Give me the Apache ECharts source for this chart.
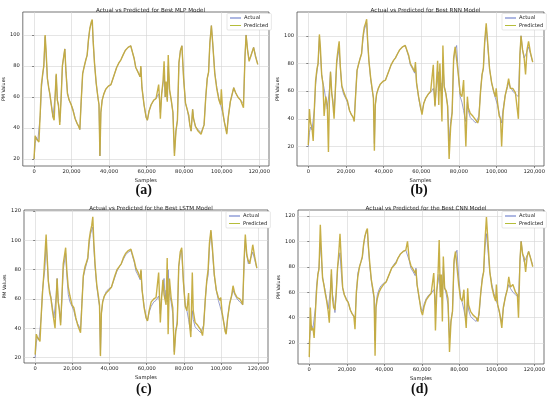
<!DOCTYPE html>
<html>
<head>
<meta charset="utf-8">
<script src="https://cdn.jsdelivr.net/npm/echarts@6/dist/echarts.min.js"></script>
<style>html,body{margin:0;padding:0;background:#fff}#c{width:550px;height:398px}</style>
</head>
<body>
<div id="c"></div>
<script>
// ---- data ----
const panelTitles = ['Actual vs Predicted for Best MLP Model','Actual vs Predicted for Best RNN Model','Actual vs Predicted for the Best LSTM Model','Actual vs Predicted for the Best CNN Model'];
const panelLabels = ['(a)','(b)','(c)','(d)'];
const xTicks = [0,20000,40000,60000,80000,100000,120000];
const yTicksAB = [20,40,60,80,100];
const yTicksCD = [20,40,60,80,100,120];
const samples = [0,600,1200,2000,2600,3300,3900,4600,5200,5900,6400,7100,7800,8400,9300,10100,10700,11300,11800,12400,13000,13700,14400,15100,15800,16400,17000,17800,18700,19800,20800,21900,22900,23800,24400,25100,25900,26800,27600,28300,29000,29700,30400,31000,31500,32200,33100,34000,34600,35100,35600,36300,37200,38200,39600,41000,42000,42900,44000,45200,46300,47400,48600,50100,51500,52400,53300,54200,55400,56500,56900,57500,58600,59700,60400,61300,62400,63800,65000,65800,66400,66900,67300,68000,68700,69300,69900,70400,71000,71500,72200,73100,74000,74800,75600,76400,77200,78000,78800,79700,80700,81600,82500,83000,83700,84500,85000,86000,87400,89000,90000,90600,91500,92300,93000,93700,94500,95300,96300,97400,98500,99400,99800,100500,101400,102100,102700,103500,104600,105600,106400,107300,108600,110000,111000,111600,112400,113000,113800,114600,115400,116200,117000,118000,119200];
const actual = [20,30,34,32,31,48,65,74,80,99,88,72,66,62,54,47,46,62,74,58,54,44,60,80,86,91,77,63,58,55,52,46,43,41,39,57,75,80,84,87,97,104,107,109,96,82,69,60,55,22,50,58,62,65,67,68,69,75,79,82,84,87,90,92,93,94,85,79,76,73,79,66,55,47,45,51,55,58,59,60,62,58,50,62,68,74,60,66,58,80,64,58,50,24,38,45,82,90,93,72,56,52,46,42,38,52,46,41,39,37,36,42,60,72,76,95,106,93,76,66,59,55,54,50,44,40,37,47,57,62,66,63,60,58,57,56,86,100,90,84,86,89,92,87,81];
const predMLP = [20,35,33,32,31,50,68,75,80,100,90,72,66,62,54,47,45,62,75,58,55,42,58,80,86,91,76,62,58,55,51,46,43,41,39,57,75,80,84,87,97,104,108,110,96,82,69,60,55,22,50,58,62,65,67,68,69,75,79,82,84,87,90,92,93,94,85,79,76,73,80,66,55,47,45,51,55,58,59,60,68,58,46,62,70,83,60,70,57,87,65,58,50,22,38,45,82,90,93,72,56,52,48,42,38,52,46,41,38,36,35,42,60,72,76,95,106,93,75,65,58,55,65,51,44,40,36,47,57,62,66,63,60,58,57,53,86,100,90,83,86,89,92,86,81];
const predRNN = [21,47,37,33,24,50,68,76,80,101,92,72,65,42,56,50,16,60,74,60,52,40,62,82,90,96,78,64,60,56,53,46,43,41,38,56,75,80,84,87,99,106,109,112,97,82,70,61,55,17,50,58,62,65,67,68,69,75,79,82,84,87,90,92,93,94,86,80,77,74,81,66,56,48,43,51,55,58,60,60,79,58,49,65,82,50,80,62,38,93,63,58,49,11,34,44,84,92,93,72,58,56,68,46,20,56,48,44,42,39,37,40,60,72,77,96,109,95,76,66,60,56,62,52,42,40,20,45,57,63,69,62,62,59,58,40,86,100,90,85,72,90,96,88,81];
const predLSTM = [22,36,34,34,31,50,63,76,77,104,90,72,64,61,52,51,40,60,74,58,52,42,62,84,90,95,80,68,62,56,54,47,42,41,37,55,76,82,85,88,100,106,110,116,100,84,70,62,56,21,50,58,62,64,66,68,69,76,80,82,84,88,91,93,94,95,86,81,78,74,80,66,54,47,45,52,58,60,61,62,78,60,44,61,73,63,62,56,88,36,74,61,54,22,38,43,82,92,95,72,55,52,64,43,34,78,52,44,42,39,35,42,60,73,80,98,107,95,77,66,61,59,61,51,44,38,36,47,57,62,69,64,61,60,58,56,88,104,90,86,84,90,97,89,81];
const predCNN = [9,48,30,32,24,45,61,74,78,113,95,71,66,60,53,45,36,60,78,55,48,46,60,79,92,106,88,64,58,54,52,46,43,41,31,60,72,80,84,88,98,104,108,110,97,84,70,62,56,10,48,55,60,63,66,68,69,75,79,81,83,87,90,92,93,100,86,81,78,75,78,66,56,45,42,49,54,57,59,60,75,57,30,60,75,101,56,74,37,88,63,61,55,13,37,45,85,92,93,66,55,53,62,45,32,63,50,45,42,40,37,45,60,70,76,100,119,100,76,64,57,53,66,50,45,38,32,48,56,62,72,64,66,60,58,40,85,100,90,87,76,88,92,87,80];

const predicted = [predMLP, predRNN, predLSTM, predCNN];
const yRanges = [[15.5,114.8],[5.9,117.2],[16.3,120.7],[3.6,124.6]];
const yTicks = [yTicksAB, yTicksAB, yTicksCD, yTicksCD];
const grids = [
  {left:22, top:12, width:247, height:154},
  {left:297, top:12, width:247, height:154},
  {left:24, top:210, width:244, height:153},
  {left:298, top:210, width:246, height:154}
];
const ACT = '#7f86c0', PRED = '#c4ab3c';
const FONT = 'DejaVu Sans';
const fmt = v => v.toLocaleString('en-US');

const option = {
  animation:false,
  backgroundColor:'#fff',
  title: [], grid: [], xAxis: [], yAxis: [], series: [], legend: [], graphic: []
};
grids.forEach((g,i)=>{
  option.grid.push(Object.assign({show:true, borderColor:'#3a3a3a', borderWidth:0.7, backgroundColor:'#fff'}, g));
  option.title.push({text:panelTitles[i], left:g.left+g.width/2, top:g.top-9, textAlign:'center',
    textStyle:{fontFamily:FONT, fontSize:5.6, fontWeight:'normal', color:'#222'}});
  option.xAxis.push({type:'value', gridIndex:i, min:-6000, max:125200,
    name:'Samples', nameLocation:'middle', nameGap:12, nameTextStyle:{fontFamily:FONT, fontSize:5.2, color:'#222'},
    axisLine:{show:false},
    axisTick:{show:true, customValues:xTicks, length:2, lineStyle:{color:'#3a3a3a', width:0.6}},
    axisLabel:{customValues:xTicks, formatter:fmt, fontFamily:FONT, fontSize:5.2, color:'#222', margin:3},
    splitLine:{show:true, lineStyle:{color:'#d4d4d4', width:0.6}}
  });
  option.yAxis.push({type:'value', gridIndex:i, min:yRanges[i][0], max:yRanges[i][1],
    name:'PM Values', nameLocation:'middle', nameGap:13, nameTextStyle:{fontFamily:FONT, fontSize:4.8, color:'#222'},
    axisLine:{show:false},
    axisTick:{show:true, customValues:yTicks[i], length:2, lineStyle:{color:'#3a3a3a', width:0.6}},
    axisLabel:{customValues:yTicks[i], fontFamily:FONT, fontSize:5.2, color:'#222', margin:3},
    splitLine:{show:true, lineStyle:{color:'#d4d4d4', width:0.6}}
  });
  option.series.push({name:'Actual', type:'line', xAxisIndex:i, yAxisIndex:i, showSymbol:false, symbol:'none',
    lineStyle:{color:ACT, width:0.8}, itemStyle:{color:'#5a6fc4'},
    data: samples.map((x,j)=>[x, actual[j]])});
  option.series.push({name:'Predicted', type:'line', xAxisIndex:i, yAxisIndex:i, showSymbol:false, symbol:'none',
    lineStyle:{color:PRED, width:1.4, opacity:0.95}, itemStyle:{color:'#b5bd3a'},
    data: samples.map((x,j)=>[x, predicted[i][j]])});
  option.legend.push({data:['Actual','Predicted'], orient:'vertical', left:g.left+g.width-42, top:g.top+1.5,
    icon:'rect', itemWidth:11, itemHeight:1, itemGap:2.5, padding:[2,3,2,3],
    backgroundColor:'#fff', borderColor:'#cfcfcf', borderWidth:0.5, borderRadius:1,
    textStyle:{fontFamily:FONT, fontSize:5.2, color:'#222', padding:[0,0,0,-2]}, selectedMode:false});
  option.graphic.push({type:'text', left: g.left + g.width/2 - 10, top: i<2 ? 183 : 382,
    style:{text:panelLabels[i], fontFamily:'Liberation Serif', fontWeight:'bold', fontSize:14, fill:'#111'}});
});
const chart = echarts.init(document.getElementById('c'), null, {renderer:'canvas'});
chart.setOption(option);
</script>
</body>
</html>
